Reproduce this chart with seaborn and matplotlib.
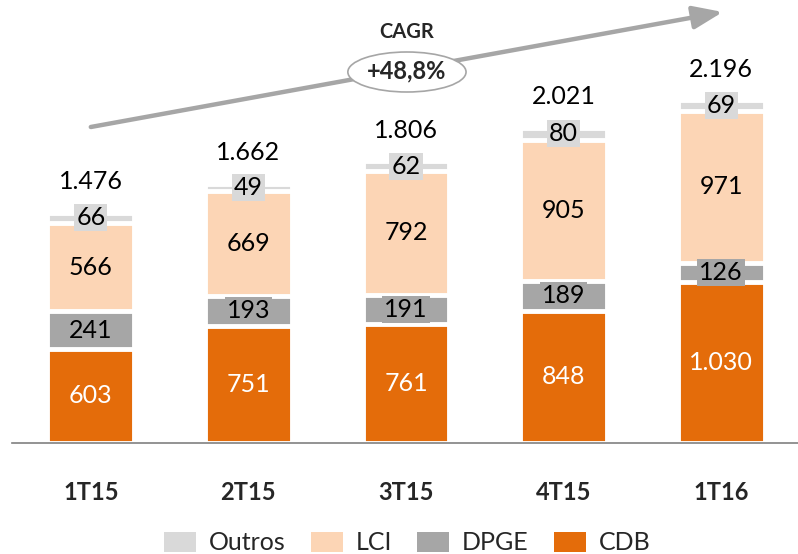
import numpy as np
import pandas as pd
import seaborn as sns
import matplotlib.pyplot as plt
from matplotlib.patches import Patch, Ellipse

# data
periods = ['1T15', '2T15', '3T15', '4T15', '1T16']
cdb = [603, 751, 761, 848, 1030]
dpge = [241, 193, 191, 189, 126]
lci = [566, 669, 792, 905, 971]
outros = [66, 49, 62, 80, 69]
totals = [1476, 1662, 1806, 2021, 2196]
cagr_label = 'CAGR'
cagr_value = '+48,8%'

colors = {'Outros': '#d9d9d9', 'LCI': '#fcd5b5', 'DPGE': '#a6a6a6', 'CDB': '#e46c0a'}
text_colors = {'Outros': 'black', 'LCI': 'black', 'DPGE': 'black', 'CDB': 'white'}

sns.set_style('white')
plt.rcParams['font.family'] = ['Lato', 'DejaVu Sans']


def fmt(v):
    return f"{v:,}".replace(',', '.')


df = pd.DataFrame({'periodo': periods, 'CDB': cdb, 'DPGE': dpge, 'LCI': lci, 'Outros': outros})
order = ['CDB', 'DPGE', 'LCI', 'Outros']
tops = df[order].cumsum(axis=1)
bottoms = tops - df[order]

fig = plt.figure(figsize=(7.98, 5.54), dpi=100)
ax = fig.add_axes([12 / 798, 111 / 554, 788 / 798, 443 / 554])

# stacked bars: draw cumulative heights from the top layer down
for name in reversed(order):
    sns.barplot(x=df['periodo'], y=tops[name], color=colors[name], saturation=1,
                width=0.55, edgecolor='white', linewidth=3.5, errorbar=None, ax=ax)

ymax = 2840
ax.set_xlim(-0.5, 4.5)
ax.set_ylim(0, ymax)
u = ymax / 443  # data units per pixel

# segment labels
for i in range(len(periods)):
    for name in order:
        v = df.loc[i, name]
        yc = bottoms.loc[i, name] + v / 2
        ax.text(i, yc, fmt(v), ha='center', va='center', fontsize=18,
                color=text_colors[name],
                bbox=dict(boxstyle='square,pad=0.08', fc=colors[name], ec='none'))
    ax.text(i, tops.loc[i, 'Outros'] + 31 * u, fmt(totals[i]), ha='center', va='center',
            fontsize=18, color='black')

# growth arrow + CAGR
ax.annotate('', xy=(4.01, (443 - 12) * u), xytext=(0.0, (443 - 127) * u),
            arrowprops=dict(arrowstyle='-|>,head_length=0.9,head_width=0.35',
                            lw=3.2, color='#a6a6a6', shrinkA=0, shrinkB=0,
                            mutation_scale=20),
            zorder=3)
ax.add_patch(Ellipse((2.006, (443 - 72) * u), 0.75, 40 * u, fc='white', ec='#a6a6a6',
                     lw=1.2, zorder=4))
ax.text(2.006, (443 - 71) * u, cagr_value, ha='center', va='center', fontsize=17,
        fontweight='bold', zorder=5)
ax.text(2.006, (443 - 32) * u, cagr_label, ha='center', va='center', fontsize=14.5,
        fontweight='bold', zorder=5)

# axis styling
for s in ['top', 'right', 'left']:
    ax.spines[s].set_visible(False)
ax.spines['bottom'].set_color('#808080')
ax.spines['bottom'].set_linewidth(1.2)
ax.set_yticks([])
ax.set_ylabel('')
ax.set_xlabel('')
ax.set_xticks(range(len(periods)))
ax.set_xticklabels(periods, fontsize=17, fontweight='bold')
ax.tick_params(axis='x', which='major', length=0, pad=27)
ax.set_xticks(np.arange(-0.5, 5, 1), minor=True)
ax.tick_params(axis='x', which='minor', length=7, width=1.2, color='#808080', direction='out')

handles = [Patch(fc=colors[n], ec='none') for n in ['Outros', 'LCI', 'DPGE', 'CDB']]
fig.legend(handles, ['Outros', 'LCI', 'DPGE', 'CDB'], loc='center',
           bbox_to_anchor=(407 / 798, 1 - 543 / 554), ncol=4, frameon=False,
           fontsize=18, handlelength=1.3, handleheight=0.9, handletextpad=0.5,
           columnspacing=1.0)

fig.savefig('out.png', dpi=100)
